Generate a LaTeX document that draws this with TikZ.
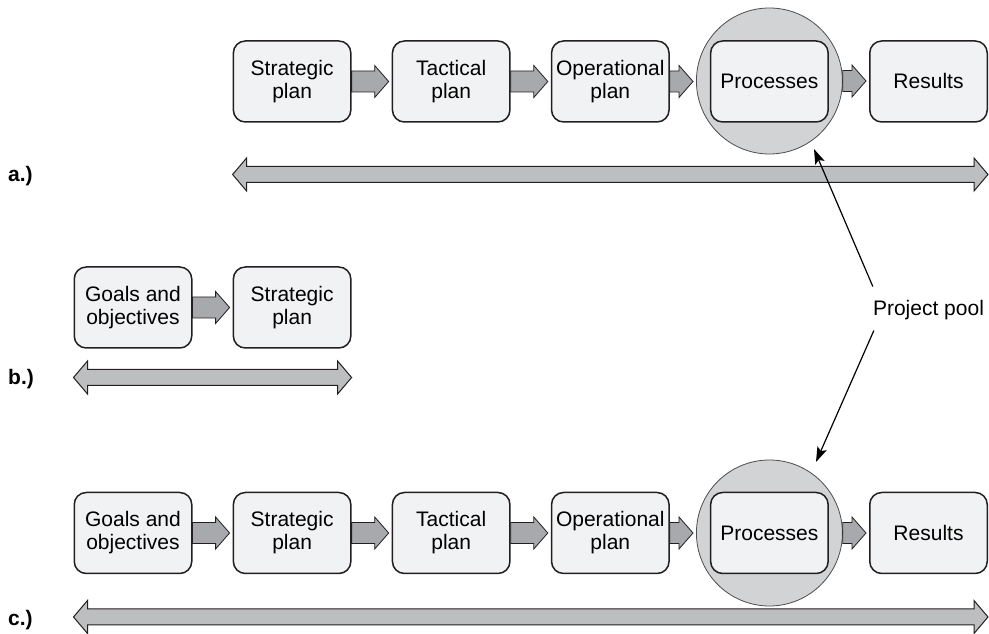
\documentclass[tikz,border=0pt]{standalone}
\usepackage{fontspec}
\setmainfont{Liberation Sans}
\usetikzlibrary{arrows.meta,calc}

\definecolor{boxfill}{HTML}{F1F2F3}
\definecolor{boxline}{HTML}{231F20}
\definecolor{stepfill}{HTML}{A7A9AC}
\definecolor{spanfill}{HTML}{BCBEC0}
\definecolor{poolfill}{HTML}{D1D3D4}
\definecolor{poolline}{HTML}{4D4D4F}

\tikzset{
  stage/.style={draw=boxline, line width=1.5pt, fill=boxfill, rounded corners=12pt,
    minimum width=117.5pt, minimum height=81pt, inner sep=0pt, align=center,
    font=\fontsize{21}{23}\selectfont},
  poolcircle/.style={circle, draw=poolline, line width=0.8pt, fill=poolfill,
    minimum size=146pt, inner sep=0pt},
  smallarrow/.style={draw=boxline, line width=0.8pt, fill=stepfill, line join=miter},
  spanarrow/.style={draw=boxline, line width=1pt, fill=spanfill, line join=miter},
  rowlabel/.style={anchor=west, inner sep=0pt, font=\fontsize{21}{23}\selectfont\bfseries},
  poolnote/.style={anchor=base, inner sep=0pt, font=\fontsize{21}{23}\selectfont},
  pointer/.style={draw=black, line width=1.2pt, -{Stealth[length=15pt,width=10pt,inset=3pt]}},
}

% block arrow from the east side of #1 to the west side of #2
\newcommand\stepArrow[2]{%
  \path[smallarrow] let \p1=(#1.east), \p2=(#2.west) in
    (\x1,\y1+10.5pt) -- (\x2-17pt,\y1+10.5pt) -- (\x2-17pt,\y1+16pt) -- (\x2-3pt,\y1)
    -- (\x2-17pt,\y1-16pt) -- (\x2-17pt,\y1-10.5pt) -- (\x1,\y1-10.5pt) -- cycle;}

% double-headed span arrow under a row, from #1.west to #2.east at height #3
\newcommand\spanArrow[3]{%
  \path[spanarrow] let \p1=(#1.west), \p2=(#2.east) in
    (\x1,#3pt) -- (\x1+14pt,#3pt+16.5pt) -- (\x1+14pt,#3pt+8pt) -- (\x2-14pt,#3pt+8pt)
    -- (\x2-14pt,#3pt+16.5pt) -- (\x2,#3pt) -- (\x2-14pt,#3pt-16.5pt) -- (\x2-14pt,#3pt-8pt)
    -- (\x1+14pt,#3pt-8pt) -- (\x1+14pt,#3pt-16.5pt) -- cycle;}

\begin{document}
\begin{tikzpicture}[x=1pt,y=1pt]
  \useasboundingbox (0,0) rectangle (989,634);

  % ---- row a ----
  \node[poolcircle] (ca) at (769.4,553) {};
  \node[stage] (a1) at (292.1,552.5) {Strategic\\plan};
  \node[stage] (a2) at (451.2,552.5) {Tactical\\plan};
  \node[stage] (a3) at (610.3,552.5) {Operational\\plan};
  \node[stage] (a4) at (769.4,552.5) {Processes};
  \node[stage] (a5) at (928.5,552.5) {Results};
  \stepArrow{a1}{a2}
  \stepArrow{a2}{a3}
  \stepArrow{a3}{ca}
  \stepArrow{ca}{a5}
  \spanArrow{a1}{a5}{459.5}
  \node[rowlabel] (la) at (8,458) {a.)};

  % ---- row b ----
  \node[stage] (b1) at (133,326.5) {Goals and\\objectives};
  \node[stage] (b2) at (292.1,326.5) {Strategic\\plan};
  \stepArrow{b1}{b2}
  \spanArrow{b1}{b2}{256.5}
  \node[rowlabel] (lb) at (8,255) {b.)};

  % ---- row c ----
  \node[poolcircle] (cc) at (769.4,101) {};
  \node[stage] (c1) at (133,101) {Goals and\\objectives};
  \node[stage] (c2) at (292.1,101) {Strategic\\plan};
  \node[stage] (c3) at (451.2,101) {Tactical\\plan};
  \node[stage] (c4) at (610.3,101) {Operational\\plan};
  \node[stage] (c5) at (769.4,101) {Processes};
  \node[stage] (c6) at (928.5,101) {Results};
  \stepArrow{c1}{c2}
  \stepArrow{c2}{c3}
  \stepArrow{c3}{c4}
  \stepArrow{c4}{cc}
  \stepArrow{cc}{c6}
  \spanArrow{c1}{c6}{17}
  \node[rowlabel] (lc) at (8,14) {c.)};

  % ---- project pool pointers ----
  \node[poolnote] (pool) at (928.5,318) {Project pool};
  \coordinate (tipA) at (814,485);
  \coordinate (tipC) at (816,172);
  \draw[pointer] ([shift={(0,14)}]pool.north west) -- (tipA);
  \draw[pointer] ([shift={(1,-10)}]pool.south west) -- (tipC);
\end{tikzpicture}
\end{document}
